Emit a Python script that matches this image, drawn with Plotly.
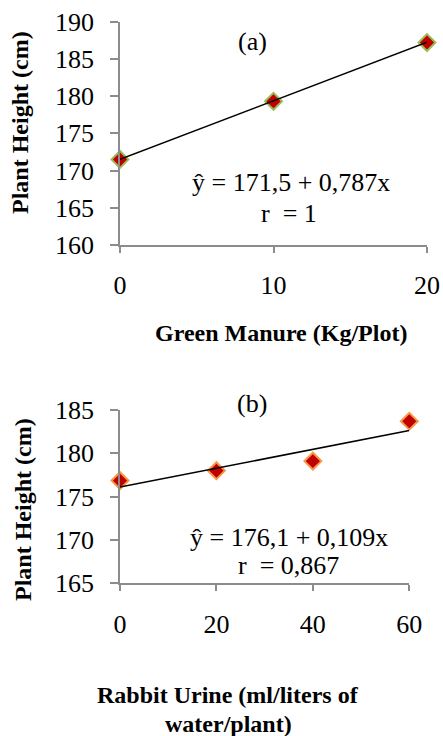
import plotly.graph_objects as go

# Data (a) Green manure
gm_x = [0, 10, 20]
gm_y = [171.5, 179.3, 187.2]
gm_intercept, gm_slope = 171.5, 0.787
gm_ticks = [0, 10, 20]

# Data (b) Rabbit urine
ru_x = [0, 20, 40, 60]
ru_y = [176.85, 178.0, 179.1, 183.7]
ru_intercept, ru_slope = 176.1, 0.109
ru_ticks = [0, 20, 40, 60]

W, H = 443, 736
FONT = "Liberation Serif"
AXC = "#8c8c8c"
RED = "#C00000"

def px_x(p):
    return p / W

def px_y(p):
    return 1 - p / H

fig = go.Figure()

fig.add_trace(go.Scatter(x=gm_x, y=gm_y, mode="markers", xaxis="x", yaxis="y",
                         marker=dict(symbol="diamond", size=13, color=RED,
                                     line=dict(color="#9BBB59", width=2)),
                         cliponaxis=False, showlegend=False))
fig.add_trace(go.Scatter(x=[gm_x[0], gm_x[-1]],
                         y=[gm_intercept + gm_slope * gm_x[0], gm_intercept + gm_slope * gm_x[-1]],
                         mode="lines", xaxis="x", yaxis="y",
                         line=dict(color="black", width=1.5), cliponaxis=False, showlegend=False))

fig.add_trace(go.Scatter(x=ru_x, y=ru_y, mode="markers", xaxis="x2", yaxis="y2",
                         marker=dict(symbol="diamond", size=13, color=RED,
                                     line=dict(color="#F79646", width=2)),
                         cliponaxis=False, showlegend=False))
fig.add_trace(go.Scatter(x=[ru_x[0], ru_x[-1]],
                         y=[ru_intercept + ru_slope * ru_x[0], ru_intercept + ru_slope * ru_x[-1]],
                         mode="lines", xaxis="x2", yaxis="y2",
                         line=dict(color="black", width=1.5), cliponaxis=False, showlegend=False))

axis_common = dict(showline=True, linecolor=AXC, linewidth=1.6, showgrid=False, zeroline=False,
                   ticks="outside", tickcolor=AXC, tickwidth=1.6, automargin=False,
                   tickfont=dict(family=FONT, size=26, color="black"))

fig.update_layout(
    width=W, height=H,
    margin=dict(l=0, r=0, t=0, b=0, autoexpand=False),
    paper_bgcolor="white", plot_bgcolor="white",
    xaxis=dict(axis_common, domain=[px_x(120), px_x(427)], range=[0, 20],
               tickvals=gm_ticks, ticklen=6, ticklabelstandoff=10, anchor="y"),
    yaxis=dict(axis_common, domain=[px_y(245), px_y(21.7)], range=[160, 190],
               dtick=5, ticklen=8, ticklabelstandoff=11, anchor="x"),
    xaxis2=dict(axis_common, domain=[px_x(120), px_x(409.3)], range=[0, 60],
                tickvals=ru_ticks, ticklen=6, ticklabelstandoff=11, anchor="y2"),
    yaxis2=dict(axis_common, domain=[px_y(583.3), px_y(410)], range=[165, 185],
                dtick=5, ticklen=8, ticklabelstandoff=11, anchor="x2"),
)

def ann(text, x, y, size=26, bold=False, angle=0):
    t = f"<b>{text}</b>" if bold else text
    fig.add_annotation(text=t, x=px_x(x), y=px_y(y), xref="paper", yref="paper",
                       xanchor="center", yanchor="middle", showarrow=False, textangle=angle,
                       font=dict(family=FONT, size=size, color="black"))

ann("(a)", 252, 42)
ann("ŷ = 171,5 + 0,787x", 291, 183)
ann("r \u00a0= 1", 289, 213)
ann("Green Manure (Kg/Plot)", 281, 333, size=24, bold=True)
ann("Plant Height (cm)", 20, 123, size=24, bold=True, angle=-90)

ann("(b)", 252, 403)
ann("ŷ = 176,1 + 0,109x", 289, 537)
ann("r \u00a0= 0,867", 288, 565)
ann("Rabbit Urine (ml/liters of", 228, 695, size=24, bold=True)
ann("water/plant)", 228, 724, size=24, bold=True)
ann("Plant Height (cm)", 23, 510, size=24, bold=True, angle=-90)

fig.write_html("out.html", config={"displayModeBar": False},
               post_script="document.body.style.margin='0';document.body.style.overflow='hidden';")
